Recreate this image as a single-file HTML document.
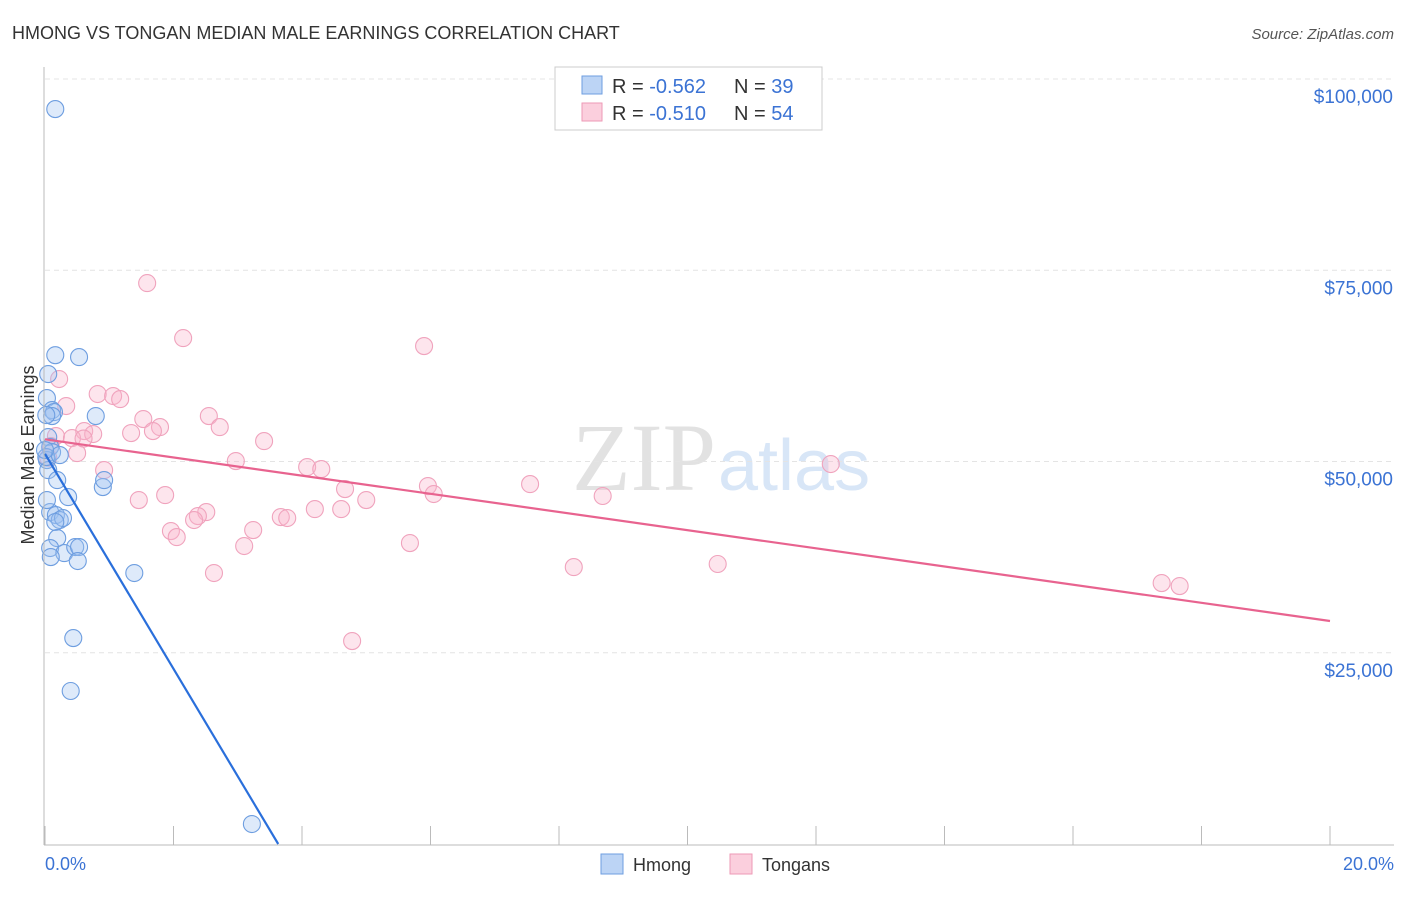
<!DOCTYPE html>
<html><head><meta charset="utf-8"><style>
body{margin:0;background:#fff;font-family:"Liberation Sans",sans-serif;}
</style></head><body>
<svg id="c" width="1406" height="892" xmlns="http://www.w3.org/2000/svg" style="font-family:'Liberation Sans',sans-serif">
<text x="12" y="39" font-size="18" fill="#333">HMONG VS TONGAN MEDIAN MALE EARNINGS CORRELATION CHART</text>
<text x="1394" y="39" font-size="15" fill="#555" font-style="italic" text-anchor="end">Source: ZipAtlas.com</text>
<text x="716" y="490" font-size="96" fill="#e2e2e2" font-family="Liberation Serif" text-anchor="end">ZIP</text>
<text x="718" y="490" font-size="72" fill="#d8e6f7">atlas</text>
<g id="grid"></g><g id="pts"></g><g id="lines"></g>
<line x1="44" y1="67" x2="44" y2="845" stroke="#bbb"/>
<line x1="44" y1="845" x2="1394" y2="845" stroke="#bbb"/>
<text x="34" y="455" font-size="18" fill="#333" text-anchor="middle" transform="rotate(-90 34 455)">Median Male Earnings</text>
<text x="45" y="870" font-size="18" fill="#3b73d4">0.0%</text>
<text x="1394" y="870" font-size="18" fill="#3b73d4" text-anchor="end">20.0%</text>
<g>
<rect x="555" y="67" width="267" height="63" fill="#fff" stroke="#ccc"/>
<rect x="582" y="76" width="20" height="18" fill="#bcd4f5" stroke="#6e9ee0"/>
<rect x="582" y="103" width="20" height="18" fill="#fbcfdd" stroke="#ee9ab6"/>
<text x="612" y="93" font-size="20" fill="#333">R = <tspan fill="#3b73d4">-0.562</tspan></text>
<text x="734" y="93" font-size="20" fill="#333">N = <tspan fill="#3b73d4">39</tspan></text>
<text x="612" y="120" font-size="20" fill="#333">R = <tspan fill="#3b73d4">-0.510</tspan></text>
<text x="734" y="120" font-size="20" fill="#333">N = <tspan fill="#3b73d4">54</tspan></text>
</g>
<g><rect x="601" y="854" width="22" height="20" fill="#bcd4f5" stroke="#6e9ee0"/><text x="633" y="871" font-size="18" fill="#333">Hmong</text></g>
<g><rect x="730" y="854" width="22" height="20" fill="#fbcfdd" stroke="#ee9ab6"/><text x="762" y="871" font-size="18" fill="#333">Tongans</text></g>
</svg>
<script>
const yTicks=[25000,50000,75000,100000];
const yTickLabels=["$25,000","$50,000","$75,000","$100,000"];
const xTicks=[0,2,4,6,8,10,12,14,16,18,20];
const hmongX=[0.16,0.16,0.53,0.05,0.03,0.11,0.14,0.11,0.79,0.05,0.08,0.11,0.03,0.05,0.19,0.90,0.92,0.36,0.08,0.17,0.23,0.28,0.16,0.19,0.08,0.30,0.47,0.53,0.09,0.51,1.39,0.44,0.40,3.22,0.02,0.23,0.02,0.03,0.0];
const hmongY=[96070,63900,63650,61430,58290,56720,56460,55940,55940,53190,51890,51230,50190,48880,47570,46660,47570,45350,43390,43000,42350,42610,42090,39990,38690,38030,38820,38820,37510,36990,35420,26920,20000,2610,50580,50840,56070,44960,51500];
const tonganX=[1.59,2.15,5.90,0.22,0.82,1.06,1.17,0.33,1.53,2.55,2.72,1.79,1.34,1.68,0.61,0.75,3.41,0.17,0.42,0.09,0.50,2.97,4.08,4.30,12.23,0.92,5.96,7.55,4.67,6.05,8.68,1.46,1.87,5.00,4.20,4.61,2.51,2.38,2.32,3.67,3.77,3.24,1.96,2.05,3.10,5.68,2.63,8.23,10.47,17.38,17.66,4.78,0.05,0.6];
const tonganY=[73320,66130,65090,60780,58820,58560,58160,57250,55550,55940,54500,54500,53720,53980,53980,53590,52670,53330,53060,52020,51100,50060,49270,49010,49670,48880,46790,47050,46400,45750,45490,44960,45610,44960,43780,43780,43390,42870,42350,42740,42610,41040,40910,40120,38950,39340,35420,36200,36600,34110,33720,26530,50500,53000];
const hmongTrend=[[0,51000],[3.63,0]];
const tonganTrend=[[0,52900],[20,29150]];
const X=v=>45+v/20*1285, Y=v=>844-v/100000*765;
const NS="http://www.w3.org/2000/svg";
function mk(t,a,p){const e=document.createElementNS(NS,t);for(const k in a)e.setAttribute(k,a[k]);p.appendChild(e);return e;}
const g=document.getElementById('grid');
yTicks.forEach((t,i)=>{
 const l=mk('line',{x1:45,x2:1394,y1:Y(t),y2:Y(t),stroke:'#e4e4e4','stroke-dasharray':'5,4'},g);
 
 
 const tx=mk('text',{x:1393,y:Y(t)+24,'font-size':19,fill:'#3b73d4','text-anchor':'end'},g);
 tx.textContent=yTickLabels[i];
 
 
});
xTicks.forEach(t=>{
 const l=mk('line',{x1:X(t),x2:X(t),y1:826,y2:845,stroke:'#bbb'},g);
 
 
});
const p=document.getElementById('pts');
tonganX.forEach((v,i)=>{
 const c=mk('circle',{cx:X(v),cy:Y(tonganY[i]),r:8.5,fill:'rgba(248,180,203,0.35)',stroke:'#f0a3bd','stroke-width':1.1},p);
 
 
});
hmongX.forEach((v,i)=>{
 const c=mk('circle',{cx:X(v),cy:Y(hmongY[i]),r:8.5,fill:'rgba(160,195,240,0.35)',stroke:'#6e9ee0','stroke-width':1.1},p);
 
 
});
const L=document.getElementById('lines');
const a=mk('line',{x1:X(hmongTrend[0][0]),y1:Y(hmongTrend[0][1]),x2:X(hmongTrend[1][0]),y2:Y(hmongTrend[1][1]),stroke:'#2a6fdb','stroke-width':2.2},L);


const b=mk('line',{x1:X(tonganTrend[0][0]),y1:Y(tonganTrend[0][1]),x2:X(tonganTrend[1][0]),y2:Y(tonganTrend[1][1]),stroke:'#e8638f','stroke-width':2.2},L);


</script>
</body></html>
